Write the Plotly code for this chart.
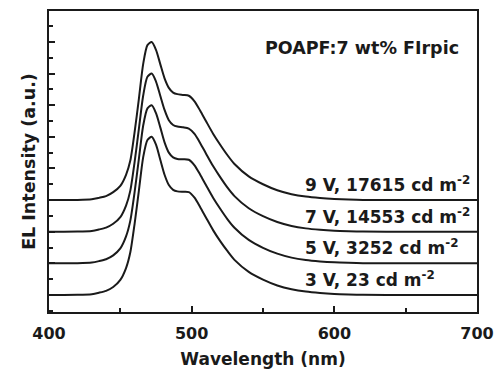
import plotly.graph_objects as go

# wavelength grid (nm)
wavelength = [400, 420, 430, 435, 440, 445, 450, 454, 457, 460, 463, 466, 469, 472, 475,
              478, 481, 484, 487, 490, 494, 498, 502, 506, 510, 515, 520, 525, 530, 540,
              550, 560, 570, 580, 590, 600, 610, 620, 650, 700]

# normalized EL spectra
el_9v = [0, 0.001, 0.005, 0.014, 0.025, 0.05, 0.09, 0.16, 0.25, 0.43, 0.64, 0.86, 0.98, 1.0, 0.95,
         0.86, 0.77, 0.71, 0.68, 0.67, 0.665, 0.66, 0.625, 0.565, 0.50, 0.42, 0.35, 0.285, 0.228, 0.15,
         0.10, 0.062, 0.037, 0.022, 0.013, 0.007, 0.003, 0.001, 0, 0]
el_7v = [0, 0.001, 0.005, 0.014, 0.026, 0.05, 0.092, 0.165, 0.26, 0.44, 0.65, 0.86, 0.98, 1.0, 0.95,
         0.86, 0.77, 0.705, 0.675, 0.665, 0.66, 0.652, 0.618, 0.56, 0.495, 0.415, 0.345, 0.28, 0.225, 0.148,
         0.098, 0.061, 0.036, 0.021, 0.012, 0.006, 0.003, 0.001, 0, 0]
el_5v = [0, 0.001, 0.005, 0.014, 0.026, 0.05, 0.094, 0.17, 0.27, 0.45, 0.66, 0.87, 0.98, 1.0, 0.95,
         0.86, 0.765, 0.70, 0.67, 0.66, 0.658, 0.655, 0.62, 0.56, 0.495, 0.415, 0.345, 0.28, 0.225, 0.148,
         0.098, 0.061, 0.036, 0.021, 0.012, 0.006, 0.003, 0.001, 0, 0]
el_3v = [0, 0.001, 0.005, 0.014, 0.026, 0.05, 0.095, 0.17, 0.27, 0.45, 0.66, 0.87, 0.98, 1.0, 0.95,
         0.855, 0.76, 0.695, 0.665, 0.655, 0.652, 0.65, 0.615, 0.555, 0.49, 0.41, 0.34, 0.278, 0.222, 0.146,
         0.097, 0.06, 0.036, 0.021, 0.012, 0.006, 0.003, 0.001, 0, 0]

spectra = [el_3v, el_5v, el_7v, el_9v]
offsets = [0, 1, 2, 3]
amplitude = 5
labels = ["3 V, 23 cd m<sup>-2</sup>", "5 V, 3252 cd m<sup>-2</sup>",
          "7 V, 14553 cd m<sup>-2</sup>", "9 V, 17615 cd m<sup>-2</sup>"]
title_text = "POAPF:7 wt% FIrpic"
x_ticks = [400, 500, 600, 700]

FONT = "DejaVu Sans"
fig = go.Figure()
for spec, off in zip(spectra, offsets):
    fig.add_trace(go.Scatter(
        x=wavelength, y=[off + amplitude * v for v in spec], mode="lines",
        line=dict(color="#1a1a1a", width=2, shape="spline", smoothing=0.7),
        showlegend=False, hoverinfo="skip"))

for lab, off in zip(labels, offsets):
    fig.add_annotation(x=578, y=off + 0.1, xref="x", yref="y", text=lab, showarrow=False,
                       xanchor="left", yanchor="bottom",
                       font=dict(family=FONT, size=17, color="#1a1a1a", weight="bold"))

fig.add_annotation(x=689, y=7.81, xref="x", yref="y", text=title_text, showarrow=False,
                   xanchor="right", yanchor="middle",
                   font=dict(family=FONT, size=17.5, color="#1a1a1a", weight="bold"))

fig.update_layout(
    width=494, height=369,
    margin=dict(l=49, r=17, t=11, b=57),
    paper_bgcolor="white", plot_bgcolor="white",
    font=dict(family=FONT, color="#1a1a1a"),
    xaxis=dict(range=[400, 700], tickvals=x_ticks, ticks="inside", ticklen=6.5, tickwidth=1.5,
               tickcolor="#1a1a1a", showline=True, linewidth=2, linecolor="#1a1a1a", mirror=True,
               showgrid=False, zeroline=False, automargin=False, ticklabelstandoff=6,
               tickfont=dict(family=FONT, size=16, weight="bold"),
               minor=dict(dtick=50, ticks="inside", ticklen=4, tickwidth=1.5, tickcolor="#1a1a1a",
                          showgrid=False),
               title=dict(text="Wavelength (nm)", font=dict(family=FONT, size=17, weight="bold"),
                          standoff=17)),
    yaxis=dict(range=[-0.54, 8.98], dtick=1, tick0=0, ticks="inside", ticklen=6, tickwidth=1.5,
               tickcolor="#1a1a1a", showticklabels=False, showline=True, linewidth=2,
               linecolor="#1a1a1a", mirror=True, showgrid=False, zeroline=False, automargin=False,
               minor=dict(dtick=0.5, ticks="inside", ticklen=3.5, tickwidth=1.5, tickcolor="#1a1a1a",
                          showgrid=False),
               title=dict(text="EL Intensity (a.u.)", font=dict(family=FONT, size=17.5, weight="bold"),
                          standoff=7)),
)

fig.write_html("out.html", config={"displayModeBar": False},
               post_script="document.body.style.margin='0';")
